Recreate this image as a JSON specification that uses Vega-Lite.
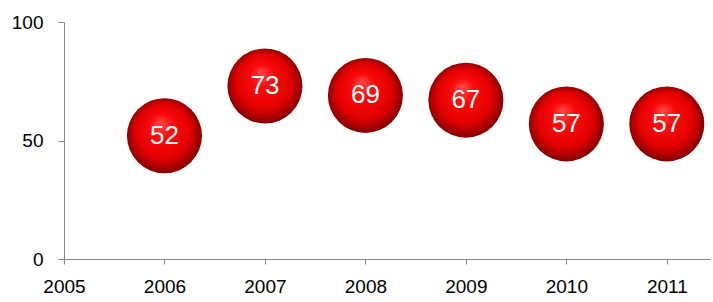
{
  "$schema": "https://vega.github.io/schema/vega-lite/v6.json",
  "width": 646,
  "height": 237,
  "autosize": {"type": "none"},
  "padding": {"left": 64, "top": 22, "right": 3, "bottom": 43},
  "background": "white",
  "config": {"view": {"stroke": null}},
  "data": {"values": [
    {"year": 2006, "value": 52},
    {"year": 2007, "value": 73},
    {"year": 2008, "value": 69},
    {"year": 2009, "value": 67},
    {"year": 2010, "value": 57},
    {"year": 2011, "value": 57}
  ]},
  "encoding": {
    "x": {"field": "year", "type": "quantitative", "scale": {"domain": [2005, 2011.43], "nice": false, "zero": false},
      "axis": {"title": null, "values": [2005, 2006, 2007, 2008, 2009, 2010, 2011], "format": "d", "grid": false,
        "domainColor": "#868686", "tickColor": "#868686", "tickSize": 5, "labelPadding": 13,
        "labelFont": "Liberation Sans", "labelFontSize": 19, "labelColor": "#000000", "labelFlush": false}},
    "y": {"field": "value", "type": "quantitative", "scale": {"domain": [0, 100], "nice": false},
      "axis": {"title": null, "values": [0, 50, 100], "grid": false,
        "domainColor": "#868686", "tickColor": "#868686", "tickSize": 6, "labelPadding": 15,
        "labelFont": "Liberation Sans", "labelFontSize": 19, "labelColor": "#000000"}}
  },
  "layer": [
    {"mark": {"type": "point", "shape": "circle", "filled": true, "size": 5625, "opacity": 1,
      "color": {"gradient": "radial", "x1": 0.45, "y1": 0.32, "r1": 0, "x2": 0.5, "y2": 0.5, "r2": 0.53,
        "stops": [{"offset": 0, "color": "#ff4a4a"}, {"offset": 0.3, "color": "#fa0a0a"}, {"offset": 0.68, "color": "#e40000"}, {"offset": 0.86, "color": "#a80000"}, {"offset": 1, "color": "#700000"}]}}},
    {"mark": {"type": "text", "color": "white", "font": "Liberation Sans", "fontSize": 26, "baseline": "middle", "align": "center"},
      "encoding": {"text": {"field": "value", "type": "quantitative"}}}
  ]
}
